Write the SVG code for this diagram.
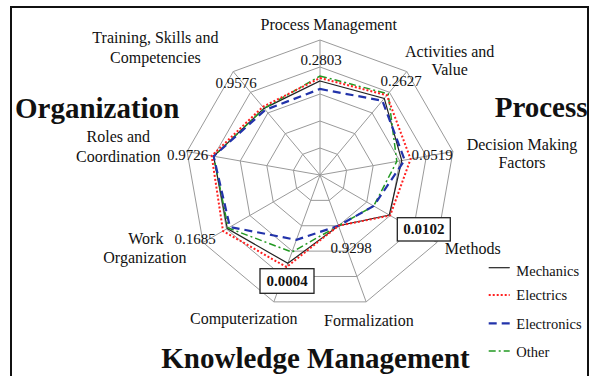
<svg xmlns="http://www.w3.org/2000/svg" width="598" height="376" viewBox="0 0 598 376">
<style>
text{font-family:"Liberation Serif","Times New Roman",serif;fill:#111}
.lab{font-size:16px}
.num{font-size:15px}
.big{font-size:29px;font-weight:bold}
.bnum{font-size:15px;font-weight:bold}
.leg{font-size:14.5px}
.ring{fill:none;stroke:#9a9a9a;stroke-width:1}
.axis{stroke:#9a9a9a;stroke-width:1}
.mech{fill:none;stroke:#222;stroke-width:1.2}
.elec{fill:none;stroke:#ff2020;stroke-width:2;stroke-dasharray:2 2}
.eltr{fill:none;stroke:#2233aa;stroke-width:2.2;stroke-dasharray:8 5}
.oth{fill:none;stroke:#229922;stroke-width:1.5;stroke-dasharray:7 3 2 3}
.box{fill:#fff;stroke:#222;stroke-width:1.3}
</style>
<rect x="11" y="7" width="577" height="375" fill="#fff" stroke="#111" stroke-width="2"/>
<g id="grid">
<polygon class="ring" points="320,40 406.78,71.59 452.95,151.56 436.91,242.5 366.17,301.86 273.83,301.86 203.09,242.5 187.05,151.56 233.22,71.59"/>
<polygon class="ring" points="320,67 389.42,92.27 426.36,156.25 413.53,229 356.94,276.49 283.06,276.49 226.47,229 213.64,156.25 250.58,92.27"/>
<polygon class="ring" points="320,94 372.07,112.95 399.77,160.94 390.15,215.5 347.7,251.12 292.3,251.12 249.85,215.5 240.23,160.94 267.93,112.95"/>
<polygon class="ring" points="320,121 354.71,133.64 373.18,165.63 366.76,202 338.47,225.74 301.53,225.74 273.24,202 266.82,165.63 285.29,133.64"/>
<polygon class="ring" points="320,148 337.36,154.32 346.59,170.31 343.38,188.5 329.23,200.37 310.77,200.37 296.62,188.5 293.41,170.31 302.64,154.32"/>
<g class="axis">
<line x1="320" y1="175" x2="320" y2="40"/>
<line x1="320" y1="175" x2="406.78" y2="71.59"/>
<line x1="320" y1="175" x2="452.95" y2="151.56"/>
<line x1="320" y1="175" x2="436.91" y2="242.5"/>
<line x1="320" y1="175" x2="366.17" y2="301.86"/>
<line x1="320" y1="175" x2="273.83" y2="301.86"/>
<line x1="320" y1="175" x2="203.09" y2="242.5"/>
<line x1="320" y1="175" x2="187.05" y2="151.56"/>
<line x1="320" y1="175" x2="233.22" y2="71.59"/>
</g>
</g>
<g id="series">
<polygon id="mechanics" class="mech" points="320,81 384.28,98.4 401.74,160.59 389.28,215 338.47,225.74 287.85,263.33 227.34,228.5 213.64,156.25 264.08,108.36"/>
<polygon id="other" class="oth" points="320,76 388.14,93.8 396.81,161.46 373.69,206 338.47,225.74 291.96,252.06 228.2,228 213.64,156.25 264.08,108.36"/>
<polygon id="electronics" class="eltr" points="320,89 382.35,100.7 404.69,160.07 373.69,206 338.47,225.74 296.4,239.84 229.94,227 213.64,156.25 265.36,109.89"/>
<polygon id="electrics" class="elec" points="320,78 386.85,95.34 410.6,159.03 390.15,215.5 338.47,225.74 286.48,267.09 223.01,231 211.67,155.9 262.79,106.83"/>
</g>
<g id="axis-labels" class="lab">
<text x="328.7" y="30" text-anchor="middle">Process Management</text>
<text x="449.7" y="57" text-anchor="middle">Activities and</text>
<text x="449.7" y="75" text-anchor="middle">Value</text>
<text x="522" y="150" text-anchor="middle">Decision Making</text>
<text x="522" y="168" text-anchor="middle">Factors</text>
<text x="444.7" y="254">Methods</text>
<text x="324" y="326">Formalization</text>
<text x="190" y="324">Computerization</text>
<text x="128.3" y="244">Work</text>
<text x="103.3" y="263">Organization</text>
<text x="118.3" y="141.7" text-anchor="middle">Roles and</text>
<text x="118.3" y="161.7" text-anchor="middle">Coordination</text>
<text x="155.4" y="43.3" text-anchor="middle">Training, Skills and</text>
<text x="155.4" y="63.3" text-anchor="middle">Competencies</text>
</g>
<g id="values" class="num">
<text x="321" y="65" text-anchor="middle">0.2803</text>
<text x="401" y="86" text-anchor="middle">0.2627</text>
<text x="432" y="160" text-anchor="middle">0.0519</text>
<text x="351" y="252.7" text-anchor="middle">0.9298</text>
<text x="195" y="244" text-anchor="middle">0.1685</text>
<text x="187.5" y="160" text-anchor="middle">0.9726</text>
<text x="236" y="88.3" text-anchor="middle">0.9576</text>
</g>
<g id="sig-methods">
<rect class="box" x="397.3" y="217.7" width="53" height="23.3"/>
<text class="bnum" x="423.8" y="234.3" text-anchor="middle">0.0102</text>
</g>
<g id="sig-computerization">
<rect class="box" x="260" y="268.7" width="54" height="24.6"/>
<text class="bnum" x="287" y="286" text-anchor="middle">0.0004</text>
</g>
<g id="group-labels" class="big">
<text x="15" y="118.3">Organization</text>
<text x="494.7" y="116.7">Process</text>
<text x="315.5" y="367.7" text-anchor="middle">Knowledge Management</text>
</g>
<g id="legend" class="leg">
<line class="mech" x1="488.7" y1="267.7" x2="509.7" y2="267.7"/>
<text x="516.3" y="276">Mechanics</text>
<line class="elec" x1="488.7" y1="295" x2="509.7" y2="295"/>
<text x="516.3" y="300">Electrics</text>
<line class="eltr" x1="488.7" y1="323.3" x2="509.7" y2="323.3"/>
<text x="516.3" y="328.7">Electronics</text>
<line class="oth" x1="488.7" y1="351" x2="509.7" y2="351"/>
<text x="516.3" y="356.7">Other</text>
</g>
</svg>
